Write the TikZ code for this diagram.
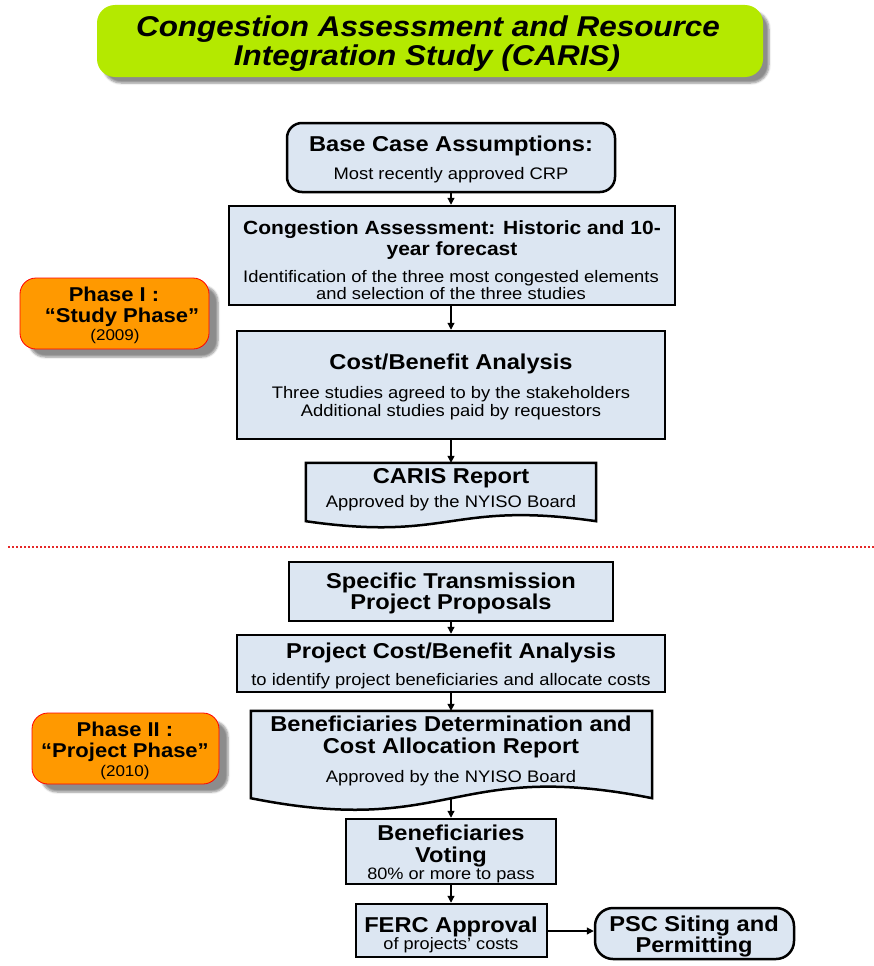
\documentclass[tikz,border=0pt]{standalone}
\usepackage{fontspec}
\setmainfont{Liberation Sans}[FakeStretch=1.1]
\usetikzlibrary{arrows.meta,shadows.blur,calc}
\definecolor{boxblue}{RGB}{220,230,242}
\definecolor{limegreen}{RGB}{180,233,0}
\definecolor{phaseorange}{RGB}{255,153,0}
\definecolor{dotred}{RGB}{230,40,40}
\tikzset{
 box/.style={draw=black, line width=2.5pt, fill=boxblue, inner sep=0pt},
 rbox/.style={box, rounded corners=15pt},
 docbox/.style={inner sep=0pt, draw=none},
 docline/.style={draw=black, line width=2.5pt, fill=boxblue},
 arr/.style={-{Triangle[length=7pt,width=7pt]}, line width=1.2pt},
 txt/.style={anchor=base, inner sep=0pt, align=center},
 ttl/.style={txt, font=\fontsize{28.6}{30}\selectfont\bfseries\itshape},
 head/.style={txt, font=\fontsize{21.5}{23}\selectfont\bfseries},
 shead/.style={txt, font=\fontsize{19.1}{21}\selectfont\bfseries},
 body/.style={txt, font=\fontsize{16.7}{18}\selectfont},
 sbody/.style={txt, font=\fontsize{16.5}{17}\selectfont},
 phead/.style={txt, font=\fontsize{20}{22}\selectfont\bfseries},
 pbody/.style={txt, font=\fontsize{15.5}{16}\selectfont},
 phase/.style={draw=red, line width=0.8pt, fill=phaseorange, rounded corners=16pt, inner sep=0pt,
   blur shadow={shadow xshift=9pt, shadow yshift=-8pt, shadow blur steps=6, shadow opacity=45}},
}
\begin{document}
\begin{tikzpicture}[x=1pt,y=-1pt]
\useasboundingbox (0,0) rectangle (874,966);
% title
\node[fill=limegreen, rounded corners=18pt, minimum width=666pt, minimum height=72pt, inner sep=0pt,
  blur shadow={shadow xshift=6pt, shadow yshift=-6pt, shadow blur steps=6, shadow opacity=45}] (title) at (430,41) {};
\node[ttl] (t1) at (428,36.5) {Congestion Assessment and Resource};
\node[ttl] (t2) at (427,66) {Integration Study (CARIS)};
% phase boxes
\node[phase, minimum width=189pt, minimum height=71pt] (p1) at (114.5,313.5) {};
\node[phead] (p1a) at (114,301) {Phase I :};
\node[phead] (p1b) at (122,322) {“Study Phase”};
\node[pbody] (p1c) at (115,340.5) {(2009)};
\node[phase, minimum width=187pt, minimum height=71pt] (p2) at (125.5,748.5) {};
\node[phead] (p2a) at (125,736) {Phase II :};
\node[phead] (p2b) at (125,757) {“Project Phase”};
\node[pbody] (p2c) at (125,776.5) {(2010)};
% flow boxes
\node[rbox, minimum width=328pt, minimum height=69pt] (bc) at (451,157.5) {};
\node[head] (bc1) at (451,151) {Base Case Assumptions:};
\node[body] (bc2) at (451,179) {Most recently approved CRP};

\node[box, minimum width=446pt, minimum height=99pt] (ca) at (452,255.5) {};
\node[shead] (ca1) at (452,234) {Congestion Assessment: Historic and 10-};
\node[shead] (ca2) at (452,255) {year forecast};
\node[body] (ca3) at (451,282) {Identification of the three most congested elements};
\node[body] (ca4) at (451,299.5) {and selection of the three studies};

\node[box, minimum width=428pt, minimum height=108pt] (cb) at (451,385) {};
\node[head] (cb1) at (451,369.5) {Cost/Benefit Analysis};
\node[body] (cb2) at (451,398) {Three studies agreed to by the stakeholders};
\node[body] (cb3) at (451,416) {Additional studies paid by requestors};

\node[docbox, minimum width=290pt, minimum height=58pt] (cr) at (451,492) {};
\draw[docline] (cr.north west) -- (cr.north east) -- (cr.south east)
  .. controls ([yshift=21pt]cr.south) and ([yshift=-21pt]cr.south) .. (cr.south west) -- cycle;
\node[head] (cr1) at (451,483) {CARIS Report};
\node[body] (cr2) at (451,507.5) {Approved by the NYISO Board};

% separator
\coordinate (sepL) at (8,547);
\coordinate (sepR) at (874,547);
\draw[dotred, line width=1.8pt, dash pattern=on 2pt off 2pt] (sepL) -- (sepR);

\node[box, minimum width=324pt, minimum height=59pt] (st) at (451,591.5) {};
\node[head] (st1) at (451,588) {Specific Transmission};
\node[head] (st2) at (451,609) {Project Proposals};

\node[box, minimum width=428pt, minimum height=57pt] (pc) at (451,663.5) {};
\node[head] (pc1) at (451,658.5) {Project Cost/Benefit Analysis};
\node[body] (pc2) at (451,685.5) {to identify project beneficiaries and allocate costs};

\node[docbox, minimum width=401pt, minimum height=87pt] (bd) at (451.5,754.5) {};
\draw[docline] (bd.north west) -- (bd.north east) -- (bd.south east)
  .. controls ([yshift=40pt]bd.south) and ([yshift=-40pt]bd.south) .. (bd.south west) -- cycle;
\node[head] (bd1) at (451,731.5) {Beneficiaries Determination and};
\node[head] (bd2) at (451,753.5) {Cost Allocation Report};
\node[body] (bd3) at (451,782.5) {Approved by the NYISO Board};

\node[box, minimum width=210pt, minimum height=65pt] (bv) at (451,851.5) {};
\node[head] (bv1) at (451,840) {Beneficiaries};
\node[head] (bv2) at (451,862) {Voting};
\node[sbody] (bv3) at (451,879) {80\% or more to pass};

\node[box, minimum width=191pt, minimum height=53pt] (fe) at (451.5,930.5) {};
\node[head] (fe1) at (451,932) {FERC Approval};
\node[sbody] (fe2) at (451,949) {of projects’ costs};

\node[box, rounded corners=18pt, minimum width=199pt, minimum height=51pt] (psc) at (694.5,933.5) {};
\node[head] (psc1) at (694,931) {PSC Siting and};
\node[head] (psc2) at (694,952) {Permitting};

% connectors
\draw[arr] (bc.south) -- (bc.south |- ca.north);
\draw[arr] (ca.south -| cb.north) -- (cb.north);
\draw[arr] (cb.south) -- (cr.north);
\draw[arr] (st.south) -- (pc.north);
\draw[arr] (pc.south) -- (pc.south |- bd.north);
\draw[arr] (bd.south -| bv.north) -- (bv.north);
\draw[arr] (bv.south) -- (bv.south |- fe.north);
\draw[arr] ([yshift=-0.5pt]fe.east) -- ([yshift=-0.5pt]fe.east -| psc.west);
\end{tikzpicture}
\end{document}
